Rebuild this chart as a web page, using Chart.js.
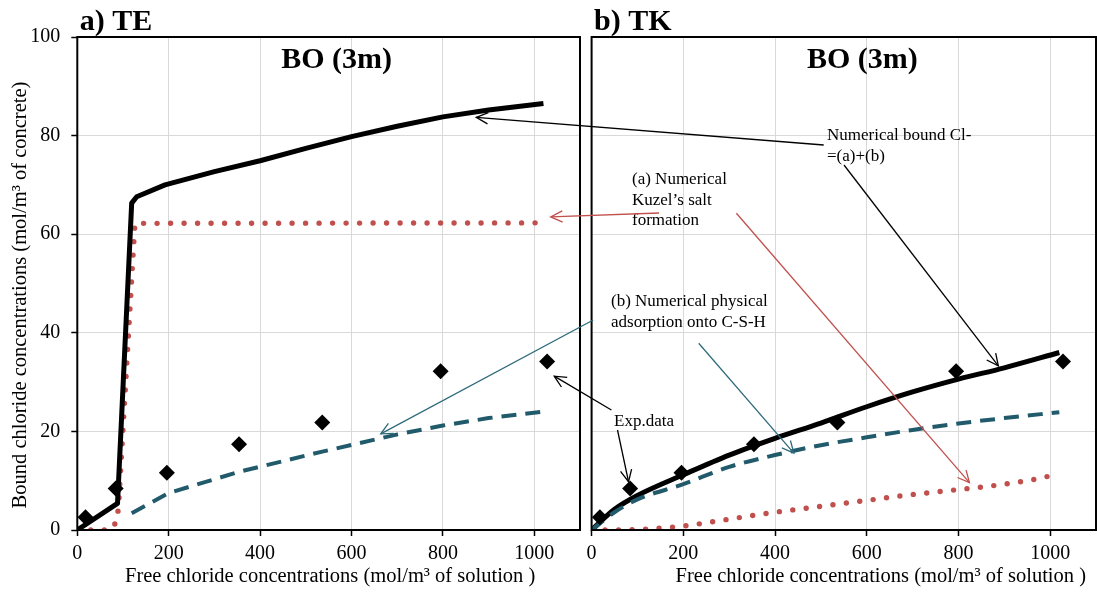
<!DOCTYPE html>
<html>
<head>
<meta charset="utf-8">
<script src="https://cdn.jsdelivr.net/npm/chart.js@4.4.0/dist/chart.umd.min.js"></script>
<style>
  body { margin: 0; background: #fff; }
  #wrap { position: relative; width: 1097px; height: 592px; }
  #wrap canvas { position: absolute; top: 0; }
  #teChart { left: 0; }
  #tkChart { left: 586px; }
  #notes { left: 0; pointer-events: none; }
</style>
</head>
<body>
<div id="wrap">
  <canvas id="teChart" width="586" height="592"></canvas>
  <canvas id="tkChart" width="511" height="592"></canvas>
  <canvas id="notes" width="1097" height="592"></canvas>
</div>
<script>
// 実験値 (両モデル共通)
const expFree = [18, 84, 196, 354, 536, 795, 1028];
const expBound = [2.6, 8.4, 11.6, 17.4, 21.8, 32.2, 34.2];

// a) TE モデル
const teTotalFree = [0, 88, 119, 130, 192, 300, 400, 500, 600, 700, 800, 900, 1020];
const teTotalBound = [0, 5.4, 66.3, 67.6, 70, 72.7, 74.9, 77.4, 79.8, 81.9, 83.8, 85.2, 86.5];
const teKuzelFree = [0, 72, 86, 90, 126, 1020];
const teKuzelBound = [0, 0, 1.7, 4.5, 62.2, 62.3];
const teCshFree = [119, 200, 354, 536, 701, 800, 900, 1020];
const teCshBound = [3.4, 7.5, 11.8, 15.9, 19.4, 21.2, 22.7, 24.0];

// b) TK モデル
const tkTotalFree = [0, 50, 100, 200, 300, 400, 500, 600, 700, 800, 900, 1020];
const tkTotalBound = [0, 4.2, 7.0, 11.2, 15.2, 18.6, 21.7, 25.0, 28.0, 30.6, 32.9, 36.0];
const tkKuzelFree = [0, 100, 150, 200, 300, 400, 500, 600, 700, 800, 900, 1000, 1020];
const tkKuzelBound = [0, 0.1, 0.4, 0.8, 2.2, 3.6, 4.8, 6.0, 7.2, 8.2, 9.3, 11.0, 11.7];
const tkCshFree = [0, 50, 100, 200, 300, 400, 500, 600, 700, 800, 900, 1020];
const tkCshBound = [0, 3.6, 6.2, 9.3, 12.8, 15.2, 17.2, 18.8, 20.3, 21.6, 22.7, 23.9];

// 軸
const xMax = 1100, xStep = 200;
const yMax = 100, yStep = 20;

const SERIF = '"Liberation Serif", "Times New Roman", serif';
const BLACK = '#000000';
const RED = '#C0504D';
const TEAL = '#215B6B';
const xTitle = 'Free chloride concentrations (mol/m³ of solution )';
const yTitle = 'Bound chloride concentrations (mol/m³ of concrete)';

function points(xs, ys) {
  return xs.map((x, i) => ({ x: x, y: ys[i] }));
}

// smooth=false なら折れ線 (TE の急変部を角のまま残す)
function buildDatasets(total, kuzel, csh, cshOnTop, smooth) {
  const mode = smooth ? 'monotone' : 'default';
  return [
    {
      label: 'Exp.data', type: 'scatter', data: points(expFree, expBound),
      pointStyle: 'rectRot', pointRadius: 8, backgroundColor: BLACK, borderColor: BLACK,
      borderWidth: 0, order: 0, clip: false
    },
    {
      label: 'Numerical bound Cl-', data: total, borderColor: BLACK, borderWidth: 5,
      pointRadius: 0, cubicInterpolationMode: mode, tension: 0, borderJoinStyle: 'round', order: 2
    },
    {
      label: '(a) Kuzel', data: kuzel, borderColor: RED, borderWidth: 5.4,
      borderDash: [0, 13.5], borderCapStyle: 'round',
      pointRadius: 0, cubicInterpolationMode: mode, tension: 0, order: 4
    },
    {
      label: '(b) C-S-H', data: csh, borderColor: TEAL, borderWidth: 4,
      borderDash: [15, 9], pointRadius: 0, cubicInterpolationMode: mode, tension: 0,
      order: cshOnTop ? 1 : 3
    }
  ];
}

// 枠・パネル名・軸タイトルを描く
const panelText = {
  id: 'panelText',
  afterDraw(chart, args, opts) {
    const ctx = chart.ctx;
    const a = chart.chartArea;
    const cx = (a.left + a.right) / 2;
    ctx.save();
    ctx.strokeStyle = BLACK;
    ctx.lineWidth = 2;
    ctx.strokeRect(a.left, a.top, a.right - a.left, a.bottom - a.top);

    ctx.fillStyle = BLACK;
    ctx.textBaseline = 'alphabetic';
    ctx.font = 'bold 30px ' + SERIF;
    ctx.textAlign = 'left';
    ctx.fillText(opts.label, a.left + 2.5, a.top - 7.5);
    ctx.textAlign = 'center';
    ctx.fillText('BO (3m)', cx + opts.titleDx, a.top + 31);

    ctx.font = '20.5px ' + SERIF;
    ctx.fillText(xTitle, cx + opts.xTitleDx, a.bottom + 52);

    if (opts.showYTitle) {
      ctx.translate(21, (a.top + a.bottom) / 2 + 11.5);
      ctx.rotate(-Math.PI / 2);
      ctx.textBaseline = 'middle';
      ctx.fillText(yTitle, 0, 0);
    }
    ctx.restore();
  }
};

function buildOptions(showY, yWidth, padRight, panel) {
  return {
    responsive: false,
    animation: false,
    layout: { autoPadding: false, padding: { top: 37, right: padRight, left: 0, bottom: 0 } },
    plugins: {
      legend: { display: false },
      tooltip: { enabled: false },
      panelText: panel
    },
    scales: {
      x: {
        type: 'linear', min: 0, max: xMax,
        ticks: {
          stepSize: xStep, includeBounds: false, maxRotation: 0,
          color: BLACK, font: { family: SERIF, size: 20 }, padding: 6,
          callback: v => String(v)
        },
        grid: { color: '#d9d9d9', tickColor: BLACK, tickLength: 6, tickWidth: 1.5 },
        border: { display: false },
        afterFit: s => { s.height = 62; s.paddingLeft = 0; s.paddingRight = 0; }
      },
      y: {
        type: 'linear', min: 0, max: yMax,
        ticks: {
          stepSize: yStep, display: showY,
          color: BLACK, font: { family: SERIF, size: 20 }, padding: 11
        },
        grid: { color: '#d9d9d9', tickColor: BLACK, tickLength: 6, tickWidth: 1.5, drawTicks: showY },
        border: { display: false },
        afterFit: s => { s.width = yWidth; s.paddingTop = 0; s.paddingBottom = 0; }
      }
    }
  };
}

const teChart = new Chart(document.getElementById('teChart'), {
  type: 'line',
  data: {
    datasets: buildDatasets(points(teTotalFree, teTotalBound), points(teKuzelFree, teKuzelBound),
      points(teCshFree, teCshBound), false, false)
  },
  options: buildOptions(true, 77.3, 6, { label: 'a) TE', titleDx: 8, xTitleDx: 1.5, showYTitle: true }),
  plugins: [panelText]
});

const tkChart = new Chart(document.getElementById('tkChart'), {
  type: 'line',
  data: {
    datasets: buildDatasets(points(tkTotalFree, tkTotalBound), points(tkKuzelFree, tkKuzelBound),
      points(tkCshFree, tkCshBound), true, true)
  },
  options: buildOptions(false, 5.6, 1, { label: 'b) TK', titleDx: 18.5, xTitleDx: 37, showYTitle: false }),
  plugins: [panelText]
});

// 注釈 (テキストと矢印)
const notes = document.getElementById('notes').getContext('2d');
const tkLeft = 586;

function pageOf(chart, offset, xv, yv) {
  return [offset + chart.scales.x.getPixelForValue(xv), chart.scales.y.getPixelForValue(yv)];
}

function arrow(x0, y0, tip, color) {
  const x1 = tip[0], y1 = tip[1];
  notes.strokeStyle = color;
  notes.lineWidth = 1.3;
  notes.beginPath();
  notes.moveTo(x0, y0);
  notes.lineTo(x1, y1);
  notes.stroke();
  const ang = Math.atan2(y1 - y0, x1 - x0);
  const len = 13, spread = 0.45;
  notes.beginPath();
  notes.moveTo(x1 - len * Math.cos(ang - spread), y1 - len * Math.sin(ang - spread));
  notes.lineTo(x1, y1);
  notes.lineTo(x1 - len * Math.cos(ang + spread), y1 - len * Math.sin(ang + spread));
  notes.stroke();
}

function label(lines, x, y, gap) {
  notes.fillStyle = BLACK;
  notes.font = '17px ' + SERIF;
  notes.textAlign = 'left';
  notes.textBaseline = 'middle';
  lines.forEach((t, i) => notes.fillText(t, x, y + i * gap));
}

label(['Numerical bound Cl-', '=(a)+(b)'], 827, 136, 21);
arrow(823.7, 145, pageOf(teChart, 0, 873, 83.7), BLACK);
arrow(844, 165, pageOf(tkChart, tkLeft, 887, 33.3), BLACK);

label(['(a) Numerical', 'Kuzel’s salt', 'formation'], 632, 180, 20.5);
arrow(659, 213, pageOf(teChart, 0, 1036, 63.5), RED);
arrow(736.4, 213.3, pageOf(tkChart, tkLeft, 824, 9.6), RED);

label(['(b) Numerical physical', 'adsorption onto C-S-H'], 611, 302, 20.5);
arrow(593.2, 320, pageOf(teChart, 0, 664, 19.5), '#2E6B7A');
arrow(698.7, 343.3, pageOf(tkChart, tkLeft, 441, 15.6), '#2E6B7A');

label(['Exp.data'], 614, 422, 0);
arrow(611.4, 410, pageOf(teChart, 0, 1043.6, 31.2), BLACK);
arrow(617.5, 430, pageOf(tkChart, tkLeft, 80.5, 9.8), BLACK);
</script>
</body>
</html>
